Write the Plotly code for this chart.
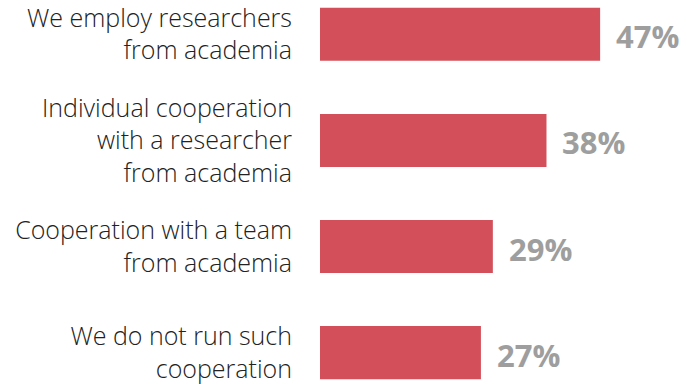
import plotly.graph_objects as go

categories = [
    "We employ researchers<br>from academia",
    "Individual cooperation<br>with a researcher<br>from academia",
    "Cooperation with a team<br>from academia",
    "We do not run such<br>cooperation",
]
values = [47, 38, 29, 27]
value_labels = ["47%", "38%", "29%", "27%"]

bar_color = "#d3505b"
value_color = "#9e9e9e"

fig = go.Figure(
    go.Bar(
        x=values,
        y=categories,
        orientation="h",
        marker=dict(color=bar_color, line=dict(width=0)),
        width=0.5,
        hoverinfo="skip",
    )
)

for cat, v, lab in zip(categories, values, value_labels):
    fig.add_annotation(
        x=v, y=cat, text=lab, showarrow=False,
        xanchor="left", yanchor="middle", xshift=14, yshift=-2,
        font=dict(family="Open Sans", size=31, color=value_color, weight="bold"),
    )

fig.update_layout(
    width=687, height=384,
    margin=dict(l=320, r=7, t=0, b=0),
    paper_bgcolor="white", plot_bgcolor="white",
    showlegend=False,
    xaxis=dict(range=[0, 60.4], visible=False),
    yaxis=dict(
        range=[3.286, -0.314],
        showgrid=False, zeroline=False, showline=False,
        ticks="", ticklabelstandoff=27,
        tickfont=dict(family="Open Sans", size=25, color="#222222", weight=300),
    ),
)

fig.write_html("out.html")
